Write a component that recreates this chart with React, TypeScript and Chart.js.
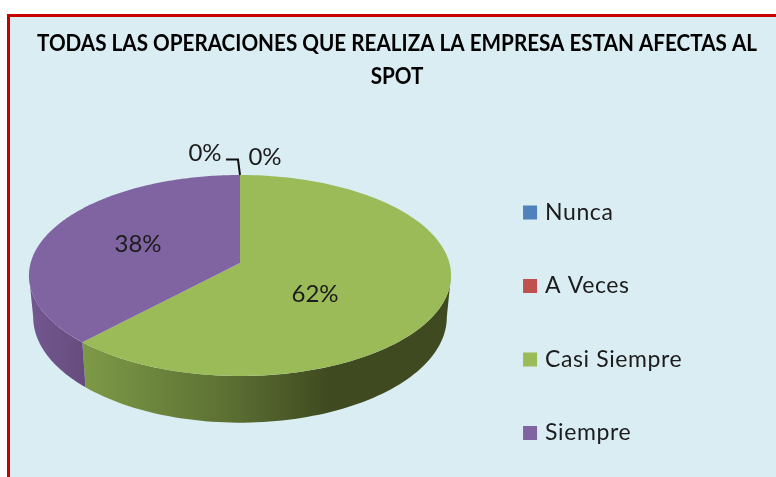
import React, { useEffect, useRef } from "react";
import { Chart, registerables } from "chart.js";

Chart.register(...registerables);

const categories = ["Nunca", "A Veces", "Casi Siempre", "Siempre"];
const values = [0, 0, 62, 38];
const colors = ["#4F81BD", "#C0504D", "#9BBB59", "#8064A2"];
const titleLines = ["TODAS LAS OPERACIONES QUE REALIZA LA EMPRESA ESTAN AFECTAS AL", "SPOT"];

const W = 776;
const H = 477;
const TEXT = "#1c1c1c";
const LABEL_FONT = "24px Lato";
const TITLE_FONT = "bold 22px Lato";
const TITLE_WIDTH = 720;
const TITLE_CENTER = 397;

// Projective view of the pie disc
const CX = 240;
const CY = 263;
const K = -0.1244;
const AX = 209.4;
const AY = 66.23;
const THETA_R = (97.1 * Math.PI) / 180;
const THETA_L = (262.9 * Math.PI) / 180;

function rim(theta: number) {
  const x = Math.sin(theta);
  const y = -Math.cos(theta);
  const w = 1 + K * y;
  return { x: CX + (AX * x) / w, y: (AY * y + CY) / w };
}
function lowerRim(theta: number) {
  const p = rim(theta);
  return { x: CX + (p.x - CX) * 0.98, y: CY + (p.y - CY) * 1.05 + 41 };
}

const labelPositions = [
  { x: 205, y: 153 },
  { x: 265, y: 157 },
  { x: 315, y: 294 },
  { x: 138, y: 244 },
];

const pie3d = {
  id: "pie3d",
  beforeDraw(chart: any) {
    const ctx = chart.ctx as any;
    const title = chart.titleBlock;
    if (title && !title.__patched) {
      title.__patched = true;
      const draw = title.draw.bind(title);
      title.draw = (area: any) => {
        ctx.save();
        ctx.font = TITLE_FONT;
        const natural = ctx.measureText(titleLines[0]).width;
        const s = TITLE_WIDTH / Math.min(natural, title.right - title.left);
        const c = (title.left + title.right) / 2;
        ctx.translate(TITLE_CENTER, 0);
        ctx.scale(s, 1);
        ctx.translate(-c, 0);
        draw(area);
        ctx.restore();
      };
    }
    const legend = chart.legend;
    if (legend && !legend.__patched) {
      legend.__patched = true;
      const draw = legend.draw.bind(legend);
      legend.draw = () => {
        ctx.save();
        ctx.translate(-87.4, 18);
        ctx.letterSpacing = "0.6px";
        const fill = ctx.fillText;
        ctx.fillText = (t: string, x: number, y: number, m?: number) =>
          m === undefined ? fill.call(ctx, t, x - 3.5, y) : fill.call(ctx, t, x - 3.5, y, m);
        draw();
        delete ctx.fillText;
        ctx.restore();
      };
    }
  },
  beforeDatasetsDraw(chart: any) {
    const ctx = chart.ctx as CanvasRenderingContext2D;
    const meta = chart.getDatasetMeta(0);
    const arcs = meta.data.map((el: any) => ({
      a: el.startAngle + Math.PI / 2,
      b: el.endAngle + Math.PI / 2,
    }));
    ctx.save();

    // side walls
    const wallFill = (i: number) => {
      if (i === 2) {
        const g = ctx.createLinearGradient(82, 0, 447, 0);
        g.addColorStop(0, "#7D9A47");
        g.addColorStop(0.4, "#5C7033");
        g.addColorStop(0.68, "#3F4A20");
        g.addColorStop(1, "#3F4A20");
        return g;
      }
      const g = ctx.createLinearGradient(33, 0, 84, 0);
      g.addColorStop(0, "#72578F");
      g.addColorStop(1, "#664C7E");
      return g;
    };
    arcs.forEach((arc: any, i: number) => {
      const a = Math.max(arc.a, THETA_R);
      const b = Math.min(arc.b, THETA_L);
      if (b <= a) return;
      const n = 80;
      ctx.beginPath();
      for (let s = 0; s <= n; s++) {
        const p = rim(a + ((b - a) * s) / n);
        if (s === 0) ctx.moveTo(p.x, p.y);
        else ctx.lineTo(p.x, p.y);
      }
      for (let s = n; s >= 0; s--) {
        const p = lowerRim(a + ((b - a) * s) / n);
        ctx.lineTo(p.x, p.y);
      }
      ctx.closePath();
      ctx.fillStyle = wallFill(i);
      ctx.fill();
    });

    // top faces
    arcs.forEach((arc: any, i: number) => {
      if (arc.b - arc.a <= 0) return;
      const n = 160;
      ctx.beginPath();
      ctx.moveTo(CX, CY);
      for (let s = 0; s <= n; s++) {
        const p = rim(arc.a + ((arc.b - arc.a) * s) / n);
        ctx.lineTo(p.x, p.y);
      }
      ctx.closePath();
      ctx.fillStyle = colors[i];
      ctx.fill();
    });

    // leader line
    ctx.strokeStyle = "#111111";
    ctx.lineWidth = 2;
    ctx.beginPath();
    ctx.moveTo(226, 159.5);
    ctx.lineTo(238, 159.5);
    ctx.lineTo(240, 175);
    ctx.stroke();

    // value labels
    const data = chart.data.datasets[0].data as number[];
    const total = data.reduce((s, v) => s + v, 0);
    ctx.fillStyle = TEXT;
    ctx.font = LABEL_FONT;
    ctx.textAlign = "center";
    ctx.textBaseline = "middle";
    data.forEach((v, i) => {
      const pos = labelPositions[i];
      ctx.fillText(`${Math.round((v / total) * 100)}%`, pos.x, pos.y);
    });
    ctx.restore();
    return false;
  },
};

export default function App() {
  const ref = useRef<HTMLCanvasElement | null>(null);
  useEffect(() => {
    if (!ref.current) return;
    const chart = new Chart(ref.current, {
      type: "pie",
      data: {
        labels: categories,
        datasets: [{ data: values, backgroundColor: colors, borderWidth: 0 }],
      },
      options: {
        responsive: false,
        animation: false,
        layout: { padding: { top: 21, right: 0, bottom: 0, left: 0 } },
        plugins: {
          tooltip: { enabled: false },
          title: {
            display: true,
            text: titleLines,
            color: "#000000",
            font: { family: "Lato", size: 22, weight: "bold", lineHeight: 1.5 },
            padding: { top: 6, bottom: 4 },
          },
          legend: {
            position: "right",
            align: "end",
            labels: {
              color: TEXT,
              font: { family: "Lato", size: 23 },
              boxWidth: 14,
              boxHeight: 14,
              padding: 50.5,
            },
          },
        },
      },
      plugins: [pie3d],
    } as any);
    return () => chart.destroy();
  }, []);

  return (
    <div style={{ position: "fixed", left: 0, top: 0, width: W, height: H, overflow: "hidden", background: "#ffffff" }}>
      <div
        style={{
          position: "absolute",
          left: 7,
          top: 14,
          width: W,
          height: H,
          background: "#DAEDF3",
          borderLeft: "3px solid #C80000",
          borderTop: "3px solid #C80000",
        }}
      />
      <canvas ref={ref} width={W} height={H} style={{ position: "absolute", left: 0, top: 0, width: W, height: H }} />
    </div>
  );
}
